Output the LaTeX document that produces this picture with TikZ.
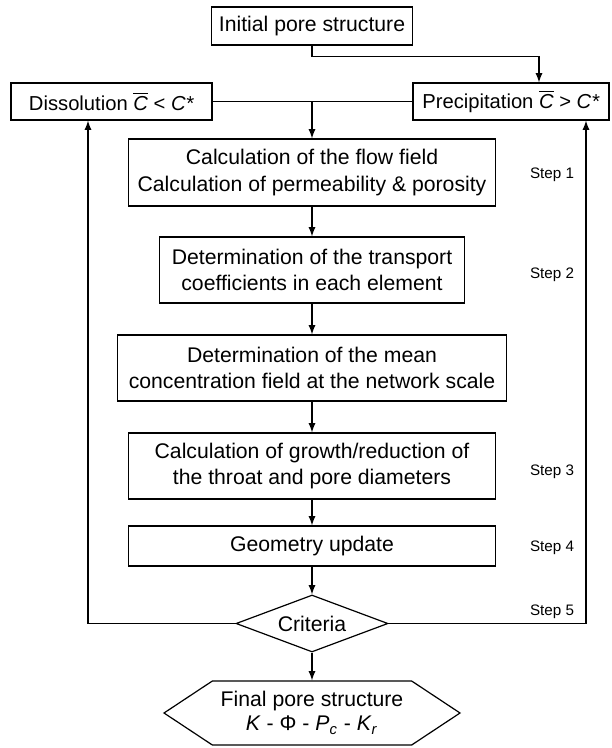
\documentclass[tikz,border=0pt]{standalone}
\usepackage{fontspec}
\setmainfont{Liberation Sans}
\usetikzlibrary{arrows,shapes.geometric,shapes.symbols}
\tikzset{
	box/.style={
			draw, line width=0.6pt, align=center, inner sep=0pt,
			font=\fontsize{10.6}{13.4}\selectfont
		},
	decision/.style={
			draw, line width=0.6pt, diamond, aspect=2.67, inner sep=0pt,
			minimum width=76pt, minimum height=28.5pt,
			font=\fontsize{10.6}{13.4}\selectfont
		},
	finalbox/.style={
			draw, line width=0.6pt, signal, signal to=west and east,
			signal pointer angle=67, align=center, inner sep=0pt,
			minimum width=148pt, minimum height=32pt,
			font=\fontsize{10.6}{12}\selectfont
		},
	steplabel/.style={font=\fontsize{7.6}{9}\selectfont},
	flow/.style={line width=0.6pt, ->, >=latex}
}
\newcommand{\cbar}{$\overline{\mbox{\itshape C}}$}

\begin{document}
\begin{tikzpicture}[x=0.5pt, y=-0.5pt]
		\useasboundingbox (0,0) rectangle (611,748);
		% Boxes
		\node[box, minimum width=100.5pt, minimum height=19pt] (init) at (312,26) {Initial pore structure};
		\node[box, font=\fontsize{10.1}{12}\selectfont, minimum width=100.5pt, minimum height=18.5pt] (diss) at (111.5,101.5) {Dissolution \cbar{} < \textit{C*}};
		\node[box, font=\fontsize{10.1}{12}\selectfont, minimum width=98pt, minimum height=18.5pt] (prec) at (511,101.5) {Precipitation \cbar{} > \textit{C*}};
		\node[box, minimum width=183.5pt, minimum height=33.5pt] (flowfield) at (312,172.5) {Calculation of the flow field\\Calculation of permeability \& porosity};
		\node[box, minimum width=152.5pt, minimum height=33pt] (transport) at (312,270) {Determination of the transport\\coefficients in each element};
		\node[box, minimum width=194.5pt, minimum height=33pt] (concfield) at (312,368) {Determination of the mean\\concentration field at the network scale};
		\node[box, minimum width=183.5pt, minimum height=33pt] (growth) at (312,466) {Calculation of growth/reduction of\\the throat and pore diameters};
		\node[box, minimum width=183.5pt, minimum height=20pt] (geom) at (312,546) {Geometry update};
		\node[decision] (crit) at (312,623.5) {Criteria};
		\node[finalbox] (final) at (312,713) {Final pore structure\\\textit{K} - Φ - \textit{P}\textsubscript{\textit{c}} - \textit{K}\textsubscript{\textit{r}}};
		% Steps
		\node[steplabel] (s1) at (552,175) {Step 1};
		\node[steplabel] (s2) at (552,275) {Step 2};
		\node[steplabel] (s3) at (552,472) {Step 3};
		\node[steplabel] (s4) at (552,548) {Step 4};
		\node[steplabel] (s5) at (552,612) {Step 5};
		% Arrows
		\draw[flow] (init.south) -- ++(0,11) -| ([xshift=14pt]prec.north);
		\draw[line width=0.6pt] (diss.east) -- (prec.west);
		\coordinate (join) at (flowfield.north |- diss.east);
		\draw[flow] (join) -- (flowfield.north);
		\foreach \a/\b in {flowfield/transport, transport/concfield, concfield/growth, growth/geom, geom/crit, crit/final}
		\draw[flow] (\a.south) -- (\b.north);
		\draw[flow] (crit.west) -| ([xshift=-11.75pt]diss.south);
		\draw[flow] (crit.east) -| ([xshift=37.5pt]prec.south);
	\end{tikzpicture}
\end{document}
